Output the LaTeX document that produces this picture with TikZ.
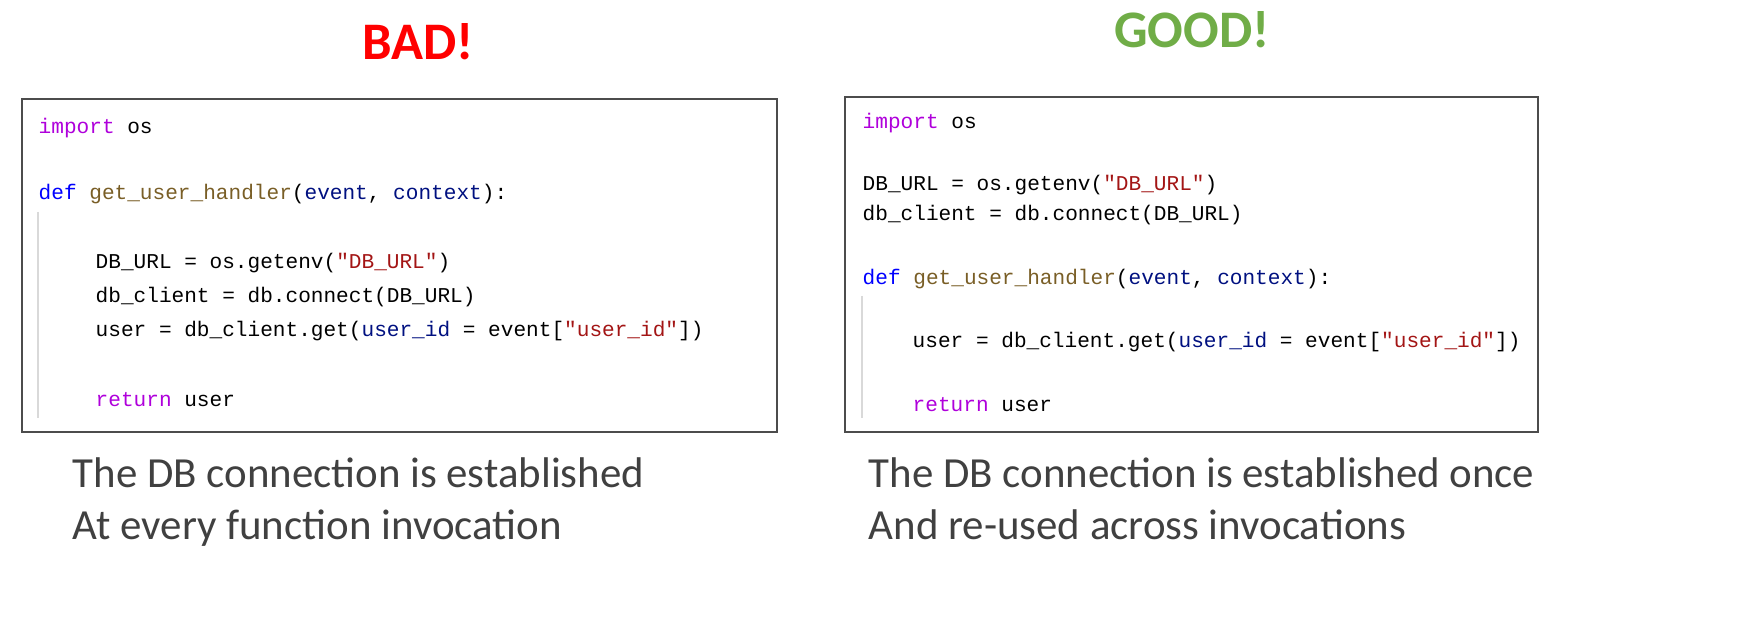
\documentclass[tikz,border=0pt]{standalone}
\usepackage{fontspec}
\setmainfont{Carlito}
\setmonofont{Liberation Mono}
\definecolor{kw}{HTML}{AF00DB}
\definecolor{df}{HTML}{0000FF}
\definecolor{fn}{HTML}{795E26}
\definecolor{pm}{HTML}{001080}
\definecolor{st}{HTML}{A31515}
\definecolor{cap}{HTML}{404040}
\definecolor{goodgreen}{HTML}{70AD47}
\newcommand{\ckw}[1]{\textcolor{kw}{#1}}
\newcommand{\cdf}[1]{\textcolor{df}{#1}}
\newcommand{\cfn}[1]{\textcolor{fn}{#1}}
\newcommand{\cpm}[1]{\textcolor{pm}{#1}}
\newcommand{\cst}[1]{\textcolor{st}{#1}}
\begin{document}
\begin{tikzpicture}[x=0.01cm,y=-0.01cm,
  code/.style = {anchor=base west, inner sep=0pt, font=\ttfamily\fontsize{6.0}{8}\selectfont},
  caption/.style = {anchor=base west, inner sep=0pt, text=cap, font=\fontsize{12.2}{14}\selectfont},
  title/.style = {inner sep=0pt, font=\bfseries\fontsize{15}{18}\selectfont},
  box/.style = {draw=black!70, line width=0.6pt},
  guide/.style = {draw=black!15, line width=0.8pt}]
  \useasboundingbox (0,0) rectangle (1752,622);
  % titles
  \node[title, text=red] (bad) at (418,42) {BAD!};
  \node[title, text=goodgreen] (good) at (1192,30) {GOOD!};
  % left box
  \draw[box] (22,99) rectangle (777,432);
  \draw[guide] (38,212) -- (38,418);
  \node[code] (l1) at (38,134) {\ckw{import} os};
  \node[code] (l2) at (38,200) {\cdf{def} \cfn{get\_user\_handler}(\cpm{event}, \cpm{context}):};
  \node[code] (l3) at (95,269) {DB\_URL = os.getenv(\cst{"DB\_URL"})};
  \node[code] (l4) at (95,303) {db\_client = db.connect(DB\_URL)};
  \node[code] (l5) at (95,337) {user = db\_client.get(\cpm{user\_id} = event[\cst{"user\_id"}])};
  \node[code] (l6) at (95,407) {\ckw{return} user};
  % right box
  \draw[box] (845,97) rectangle (1538,432);
  \draw[guide] (862,296) -- (862,418);
  \node[code] (r1) at (862,129) {\ckw{import} os};
  \node[code] (r2) at (862,191) {DB\_URL = os.getenv(\cst{"DB\_URL"})};
  \node[code] (r3) at (862,221) {db\_client = db.connect(DB\_URL)};
  \node[code] (r4) at (862,285) {\cdf{def} \cfn{get\_user\_handler}(\cpm{event}, \cpm{context}):};
  \node[code] (r5) at (912,348) {user = db\_client.get(\cpm{user\_id} = event[\cst{"user\_id"}])};
  \node[code] (r6) at (912,412) {\ckw{return} user};
  % captions
  \node[caption] (lc1) at (72,488) {The DB connection is established};
  \node[caption] (lc2) at (72,540) {At every function invocation};
  \node[caption] (rc1) at (868,488) {The DB connection is established once};
  \node[caption] (rc2) at (868,540) {And re-used across invocations};
\end{tikzpicture}
\end{document}
